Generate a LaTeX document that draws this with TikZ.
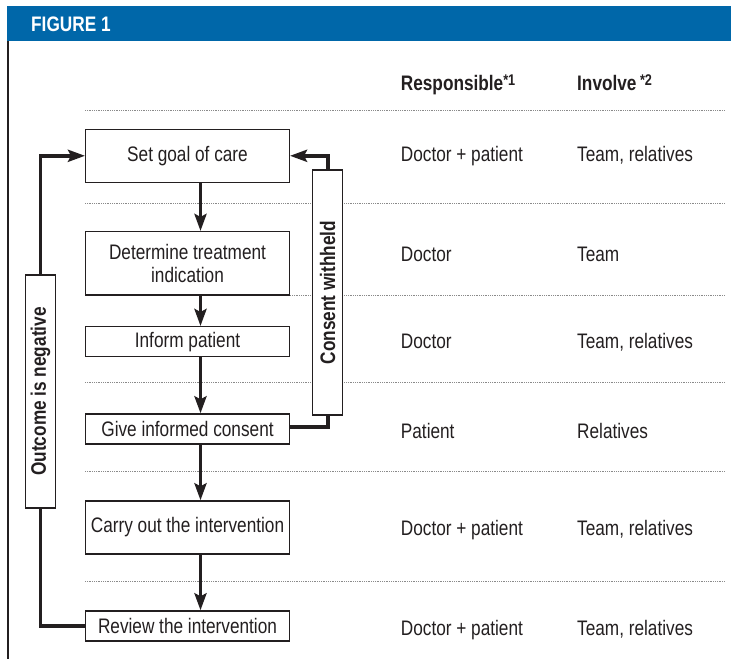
\documentclass[tikz,border=0pt]{standalone}
\usepackage{fontspec}
\setmainfont{Liberation Sans}[FakeStretch=0.82]
\usepackage{graphicx}
\usetikzlibrary{arrows.meta}
\definecolor{ink}{HTML}{231F20}
\definecolor{headblue}{RGB}{0,103,169}
\definecolor{rulegray}{HTML}{8A8A8A}
\newcommand{\supmark}[1]{\raisebox{5pt}{\fontsize{15.5}{15.5}\selectfont #1}}

\begin{document}
\begin{tikzpicture}[x=1pt,y=-1pt,
  every node/.style={font=\fontsize{21}{22.7}\selectfont, text=ink},
  stepbox/.style={draw=ink, line width=1.4pt, fill=white, inner sep=0pt,
    minimum width=203.6pt, align=center},
  sidebox/.style={draw=ink, line width=1.4pt, fill=white, inner sep=0pt,
    minimum width=30pt, font=\fontsize{21}{22.7}\selectfont\bfseries},
  flow/.style={draw=ink, line width=3.6pt, -{Stealth[length=17pt,width=12pt,inset=3pt]}},
  loopline/.style={draw=ink, line width=3.6pt},
  rowline/.style={draw=rulegray, line width=0.8pt, dash pattern=on 0.9pt off 0.9pt},
  celltext/.style={anchor=base west, inner sep=0pt},
  headtext/.style={anchor=base west, inner sep=0pt,
    font=\fontsize{21}{22.7}\selectfont\bfseries},
]
\useasboundingbox (0,0) rectangle (731,659);

% title bar and left frame rule
\fill[headblue] (7,6) rectangle (731,40.7);
\node[headtext, text=white] (title) at (31,31) {FIGURE 1};
\draw[ink, line width=2pt] (8.3,40.7) -- (8.3,659);

% dotted row separators
\foreach \yy in {110,203,295,382.7,471.7,581}
  \draw[rowline] (85,\yy) -- (725,\yy);

% column headings
\node[headtext] (hresp) at (400.7,90.7) {Responsible\supmark{*1}};
\node[headtext] (hinv) at (577,90.7) {Involve\,\supmark{*2}};

% process steps
\node[stepbox, minimum height=53pt] (goal) at (187.5,155.8) {Set goal of care};
\node[stepbox, minimum height=63.3pt] (indic) at (187.5,263.3) {Determine treatment\\indication};
\node[stepbox, minimum height=30pt] (inform) at (187.5,341.7) {Inform patient};
\node[stepbox, minimum height=30pt] (consent) at (187.5,429) {Give informed consent};
\node[stepbox, minimum height=53pt] (carry) at (187.5,527.5) {Carry out the intervention};
\node[stepbox, minimum height=30pt] (review) at (187.5,626) {Review the intervention};

% feedback boxes
\node[sidebox, minimum height=233pt] (outcome) at (40.5,391.5) {\rotatebox{90}{Outcome is negative}};
\node[sidebox, minimum height=245pt] (withheld) at (327.7,292.5) {\rotatebox{90}{Consent withheld}};

% main flow
\draw[flow] ([xshift=13pt]goal.south) -- ([xshift=13pt]indic.north);
\draw[flow] ([xshift=13pt]indic.south) -- ([xshift=13pt]inform.north);
\draw[flow] ([xshift=13pt]inform.south) -- ([xshift=13pt]consent.north);
\draw[flow] ([xshift=13pt]consent.south) -- ([xshift=13pt]carry.north);
\draw[flow] ([xshift=13pt]carry.south) -- ([xshift=13pt]review.north);

% feedback loops
\draw[loopline] (review.west) -| (outcome.south);
\draw[flow] (outcome.north) |- (goal.west);
\draw[loopline] ([yshift=2pt]consent.east) -| (withheld.south);
\draw[flow] (withheld.north) |- (goal.east);

% responsibility table
\node[celltext] (r1) at (400.7,161.7) {Doctor + patient};
\node[celltext] (i1) at (577,161.7) {Team, relatives};
\node[celltext] (r2) at (400.7,261.7) {Doctor};
\node[celltext] (i2) at (577,261.7) {Team};
\node[celltext] (r3) at (400.7,348) {Doctor};
\node[celltext] (i3) at (577,348) {Team, relatives};
\node[celltext] (r4) at (400.7,438) {Patient};
\node[celltext] (i4) at (577,438) {Relatives};
\node[celltext] (r5) at (400.7,535) {Doctor + patient};
\node[celltext] (i5) at (577,535) {Team, relatives};
\node[celltext] (r6) at (400.7,635) {Doctor + patient};
\node[celltext] (i6) at (577,635) {Team, relatives};
\end{tikzpicture}
\end{document}
